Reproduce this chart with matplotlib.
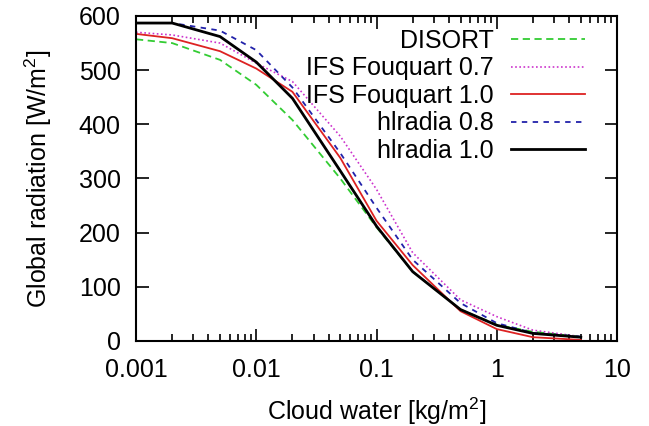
import matplotlib
matplotlib.use("Agg")
import matplotlib.pyplot as plt
from matplotlib.ticker import LogLocator, FixedLocator, NullFormatter

plt.rcParams['font.family'] = ['Liberation Sans', 'DejaVu Sans']

cloud_water = [0.001, 0.002, 0.005, 0.01, 0.02, 0.05, 0.1, 0.2, 0.5, 1, 2, 5]
disort = [557, 550, 519, 473, 408, 300, 210, 128, 58, 30, 17, 8]
ifs_07 = [570, 565, 550, 513, 479, 378, 280, 163, 76, 45, 20, 8]
ifs_10 = [567, 559, 535, 503, 460, 338, 222, 140, 55, 22, 7, 2]
hl_08 = [587, 587, 573, 537, 468, 347, 246, 150, 70, 33, 15, 8]
hl_10 = [587, 587, 562, 515, 448, 314, 212, 128, 58, 29, 14, 7]

x_ticks = [0.001, 0.01, 0.1, 1, 10]
x_ticklabels = ["0.001", "0.01", "0.1", "1", "10"]
y_ticks = [0, 100, 200, 300, 400, 500, 600]

FS = 18

fig = plt.figure(figsize=(6.49, 4.26), dpi=100)
ax = fig.add_axes([136/649, 1-341/426, (617-136)/649, (341-16)/426])

ax.plot(cloud_water, disort, color="#33cc33", ls=(0, (4, 2.5)), lw=1.3, label="DISORT")
ax.plot(cloud_water, ifs_07, color="#cc33cc", ls=(0, (1, 1.5)), lw=1.2, label="IFS Fouquart 0.7")
ax.plot(cloud_water, ifs_10, color="#dd2222", ls="-", lw=1.3, label="IFS Fouquart 1.0")
ax.plot(cloud_water, hl_08, color="#2222aa", ls=(0, (3, 3)), lw=1.3, label="hlradia 0.8")
ax.plot(cloud_water, hl_10, color="black", ls="-", lw=2.0, label="hlradia 1.0")

ax.set_xscale("log")
ax.set_xlim(0.001, 10)
ax.set_ylim(0, 600)
ax.xaxis.set_major_locator(FixedLocator(x_ticks))
ax.set_xticklabels(x_ticklabels)
ax.xaxis.set_minor_locator(LogLocator(base=10, subs=range(2, 10), numticks=20))
ax.xaxis.set_minor_formatter(NullFormatter())
ax.set_yticks(y_ticks)

ax.tick_params(which="both", direction="in", top=True, right=True, labelsize=FS, width=1.2, colors="black")
ax.tick_params(which="major", length=9)
ax.tick_params(axis="y", which="major", pad=11)
ax.tick_params(axis="x", which="major", pad=12)
ax.tick_params(which="minor", length=5)
for s in ax.spines.values():
    s.set_linewidth(1.5)

ax.set_xlabel("Cloud water [kg/m$\\mathregular{^2}$]", fontsize=FS, labelpad=10)
ax.set_ylabel("Global radiation [W/m$\\mathregular{^2}$]", fontsize=FS, labelpad=18)

leg = ax.legend(loc="upper right", markerfirst=False, frameon=False, fontsize=FS,
                handlelength=2.95, handletextpad=0.7, labelspacing=0.14,
                borderaxespad=0.3, bbox_to_anchor=(0.97, 1.014))
for t in leg.get_texts():
    t.set_ha("right")
leg._legend_box.align = "right"

fig.savefig("out.png", dpi=100, facecolor="white")
